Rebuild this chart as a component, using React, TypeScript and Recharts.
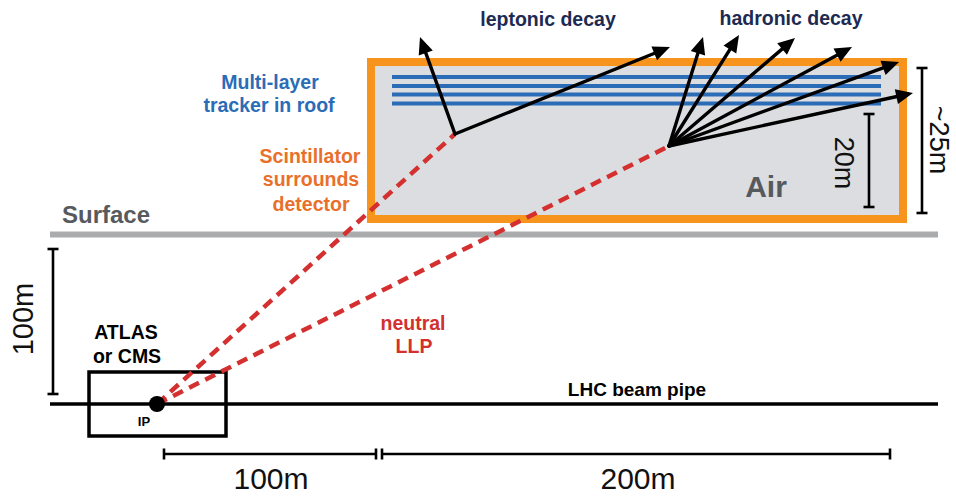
import React from 'react';
import {
  ComposedChart,
  XAxis,
  YAxis,
  Line,
  ReferenceLine,
  ReferenceArea,
  ReferenceDot,
} from 'recharts';

// Schematic units: interaction point (IP) at origin, y pointing up.
const X_DOMAIN: [number, number] = [-157, 799];
const Y_DOMAIN: [number, number] = [-93, 404];

const surfaceLine = { y: 169.5, x1: -107, x2: 781 };
const beamPipe = { y: 0, x1: -107, x2: 781 };
const detectorBox = { x1: 214, x2: 746, y1: 185, y2: 342 };
const atlasBox = { x1: -68, x2: 69, y1: -32, y2: 32 };
const trackerLayers = [327, 318, 309.5, 300.5];
const trackerSpan = [235, 724];
const ipPoint = { x: 0, y: 0 };
const leptonicVertex = { x: 298, y: 270 };
const hadronicVertex = { x: 512, y: 258 };
const leptonicTips = [
  { x: 263, y: 367 },
  { x: 513, y: 357 },
];
const hadronicTips = [
  { x: 546, y: 367 },
  { x: 582, y: 369 },
  { x: 638, y: 366 },
  { x: 695, y: 357 },
  { x: 742, y: 342 },
  { x: 756, y: 311 },
];
const verticalBars = [
  { x: 712, y1: 197, y2: 290 },
  { x: 765, y1: 191, y2: 336 },
  { x: -104, y1: 10, y2: 155 },
];
const horizontalBars = [
  { y: -50, x1: 7, x2: 219 },
  { y: -50, x1: 225, x2: 733 },
];

const decayLabels = [
  { text: 'leptonic decay', x: 391, y: 385 },
  { text: 'hadronic decay', x: 634, y: 386 },
];
const trackerLabels = [
  { text: 'Multi-layer', x: 113, y: 322 },
  { text: 'tracker in roof', x: 112, y: 299 },
];
const scintLabels = [
  { text: 'Scintillator', x: 153, y: 248 },
  { text: 'surrounds', x: 154, y: 225 },
  { text: 'detector', x: 154, y: 200 },
];
const grayLabels = [
  { text: 'Surface', x: -51, y: 189, size: 24 },
  { text: 'Air', x: 609, y: 218, size: 30 },
];
const blackLabels = [
  { text: 'ATLAS', x: -31, y: 72, size: 19.5 },
  { text: 'or CMS', x: -30, y: 48, size: 19.5 },
  { text: 'LHC beam pipe', x: 480, y: 15, size: 19 },
  { text: 'IP', x: -13, y: -17, size: 13 },
];
const llpLabels = [
  { text: 'neutral', x: 256, y: 81 },
  { text: 'LLP', x: 257, y: 58 },
];
const dimLabels = [
  { text: '20m', x: 687, y: 241, angle: 90, size: 27 },
  { text: '~25m', x: 782, y: 264, angle: 90, size: 27 },
  { text: '100m', x: -134, y: 85, angle: -90, size: 29 },
  { text: '100m', x: 114, y: -74, angle: 0, size: 30 },
  { text: '200m', x: 481, y: -74, angle: 0, size: 30 },
];

const NAVY = '#1d2a52';
const BLUE = '#2b6cb7';
const ORANGE = '#f7941d';
const ORANGE_TEXT = '#e8702b';
const GRAY_TEXT = '#56595e';
const RED = '#d3302f';
const FONT = '"Liberation Sans", Arial, Helvetica, sans-serif';

const makeText =
  (text: string, color: string, size: number, weight: number, angle = 0) =>
  (props: any) => {
    const { cx, cy } = props;
    return (
      <text
        x={cx}
        y={cy}
        dy="0.35em"
        textAnchor="middle"
        fill={color}
        fontSize={size}
        fontWeight={weight}
        fontFamily={FONT}
        transform={angle ? `rotate(${angle}, ${cx}, ${cy})` : undefined}
      >
        {text}
      </text>
    );
  };

const arrowShape = (props: any) => {
  const { x1, y1, x2, y2 } = props;
  const dx = x2 - x1;
  const dy = y2 - y1;
  const len = Math.hypot(dx, dy) || 1;
  const ux = dx / len;
  const uy = dy / len;
  const L = 17;
  const W = 7.5;
  const bx = x2 - ux * L;
  const by = y2 - uy * L;
  const pts = `${x2},${y2} ${bx - uy * W},${by + ux * W} ${bx + uy * W},${by - ux * W}`;
  return (
    <g>
      <line
        x1={x1}
        y1={y1}
        x2={bx + ux * 3}
        y2={by + uy * 3}
        stroke="#000"
        strokeWidth={3.4}
        strokeLinecap="round"
      />
      <polygon points={pts} fill="#000" />
    </g>
  );
};

const dimShape = (props: any) => {
  const { x1, y1, x2, y2 } = props;
  const dx = x2 - x1;
  const dy = y2 - y1;
  const len = Math.hypot(dx, dy) || 1;
  const px = (-dy / len) * 5.5;
  const py = (dx / len) * 5.5;
  return (
    <g stroke="#000" strokeWidth={2.6}>
      <line x1={x1} y1={y1} x2={x2} y2={y2} />
      <line x1={x1 - px} y1={y1 - py} x2={x1 + px} y2={y1 + py} />
      <line x1={x2 - px} y1={y2 - py} x2={x2 + px} y2={y2 + py} />
    </g>
  );
};

export default function App() {
  return (
    <div style={{ position: 'absolute', left: 0, top: 0, width: 956, height: 497, background: '#fff' }}>
      <ComposedChart width={956} height={497} margin={{ top: 0, right: 0, bottom: 0, left: 0 }}>
        <XAxis type="number" dataKey="x" domain={X_DOMAIN} hide allowDataOverflow />
        <YAxis type="number" dataKey="y" domain={Y_DOMAIN} hide allowDataOverflow />

        <ReferenceArea
          x1={detectorBox.x1}
          x2={detectorBox.x2}
          y1={detectorBox.y1}
          y2={detectorBox.y2}
          fill="#dcdde0"
          fillOpacity={1}
          stroke={ORANGE}
          strokeWidth={8}
        />
        {trackerLayers.map((y, i) => (
          <ReferenceLine
            key={`tr${i}`}
            segment={[
              { x: trackerSpan[0], y },
              { x: trackerSpan[1], y },
            ]}
            stroke={BLUE}
            strokeWidth={4.2}
          />
        ))}
        <ReferenceLine
          segment={[
            { x: surfaceLine.x1, y: surfaceLine.y },
            { x: surfaceLine.x2, y: surfaceLine.y },
          ]}
          stroke="#aaabad"
          strokeWidth={6}
        />
        <ReferenceLine
          segment={[
            { x: beamPipe.x1, y: beamPipe.y },
            { x: beamPipe.x2, y: beamPipe.y },
          ]}
          stroke="#000"
          strokeWidth={3.5}
        />
        <ReferenceArea
          x1={atlasBox.x1}
          x2={atlasBox.x2}
          y1={atlasBox.y1}
          y2={atlasBox.y2}
          fill="none"
          fillOpacity={0}
          stroke="#000"
          strokeWidth={3.5}
        />

        {[leptonicVertex, hadronicVertex].map((v, i) => (
          <Line
            key={`llp${i}`}
            data={[ipPoint, v]}
            dataKey="y"
            type="linear"
            stroke={RED}
            strokeWidth={4.5}
            strokeDasharray="11 7"
            dot={false}
            activeDot={false}
            isAnimationActive={false}
          />
        ))}

        {leptonicTips.map((t, i) => (
          <ReferenceLine key={`lt${i}`} segment={[leptonicVertex, t]} shape={arrowShape} />
        ))}
        {hadronicTips.map((t, i) => (
          <ReferenceLine key={`ht${i}`} segment={[hadronicVertex, t]} shape={arrowShape} />
        ))}

        {verticalBars.map((b, i) => (
          <ReferenceLine
            key={`vb${i}`}
            segment={[
              { x: b.x, y: b.y1 },
              { x: b.x, y: b.y2 },
            ]}
            shape={dimShape}
          />
        ))}
        {horizontalBars.map((b, i) => (
          <ReferenceLine
            key={`hb${i}`}
            segment={[
              { x: b.x1, y: b.y },
              { x: b.x2, y: b.y },
            ]}
            shape={dimShape}
          />
        ))}

        <ReferenceDot x={ipPoint.x} y={ipPoint.y} r={8} fill="#000" stroke="none" />

        {decayLabels.map((l, i) => (
          <ReferenceDot key={`dl${i}`} x={l.x} y={l.y} r={0} shape={makeText(l.text, NAVY, 19.5, 700)} />
        ))}
        {trackerLabels.map((l, i) => (
          <ReferenceDot key={`tl${i}`} x={l.x} y={l.y} r={0} shape={makeText(l.text, BLUE, 19.5, 700)} />
        ))}
        {scintLabels.map((l, i) => (
          <ReferenceDot key={`sl${i}`} x={l.x} y={l.y} r={0} shape={makeText(l.text, ORANGE_TEXT, 19.5, 700)} />
        ))}
        {grayLabels.map((l, i) => (
          <ReferenceDot key={`gl${i}`} x={l.x} y={l.y} r={0} shape={makeText(l.text, GRAY_TEXT, l.size, 700)} />
        ))}
        {blackLabels.map((l, i) => (
          <ReferenceDot key={`bl${i}`} x={l.x} y={l.y} r={0} shape={makeText(l.text, '#000', l.size, 700)} />
        ))}
        {llpLabels.map((l, i) => (
          <ReferenceDot key={`ll${i}`} x={l.x} y={l.y} r={0} shape={makeText(l.text, RED, 19.5, 700)} />
        ))}
        {dimLabels.map((l, i) => (
          <ReferenceDot
            key={`dm${i}`}
            x={l.x}
            y={l.y}
            r={0}
            shape={makeText(l.text, '#111', l.size, 400, l.angle)}
          />
        ))}
      </ComposedChart>
    </div>
  );
}
